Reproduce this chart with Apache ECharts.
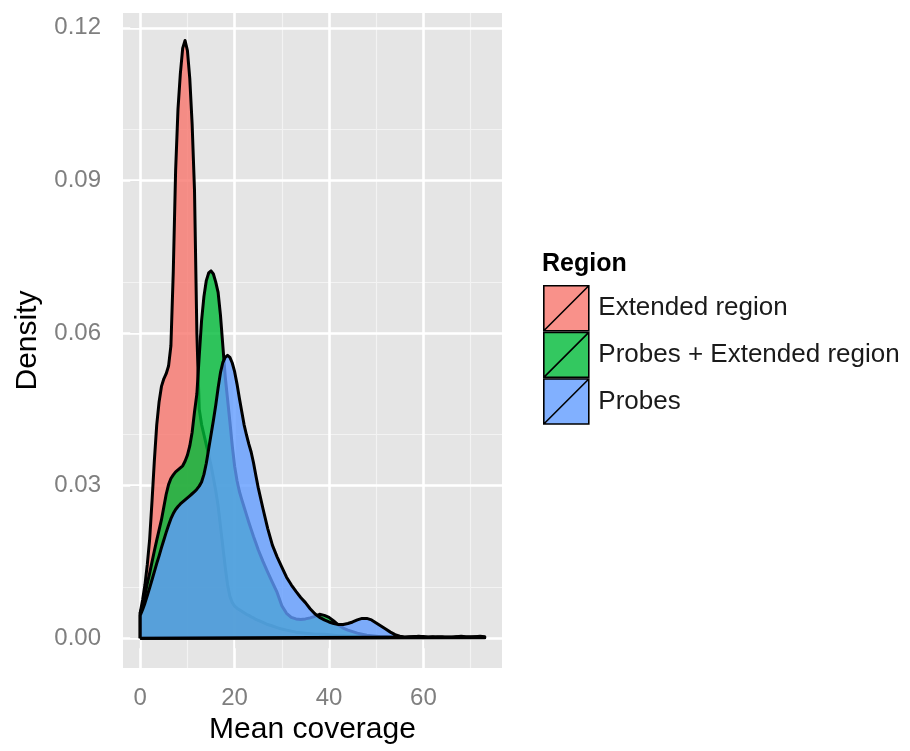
<!DOCTYPE html>
<html>
<head>
<meta charset="utf-8">
<script src="https://cdn.jsdelivr.net/npm/echarts@6/dist/echarts.min.js"></script>
<style>
  html, body { margin: 0; padding: 0; background: #ffffff; }
  #chart { width: 910px; height: 751px; }
</style>
</head>
<body>
<div id="chart"></div>
<script>
// Mean coverage grid at which the densities are evaluated
const coverage = [
  0, 0.5, 1, 1.5, 2, 2.5, 3, 3.5, 4, 4.5,
  5, 5.5, 6, 6.5, 7, 7.5, 8, 8.5, 9, 9.5,
  10, 10.5, 11, 11.5, 12, 12.5, 13, 13.5, 14, 14.5,
  15, 15.5, 16, 16.5, 17, 17.5, 18, 18.5, 19, 19.5,
  20, 20.5, 21, 21.5, 22, 22.5, 23, 23.5, 24, 24.5,
  25, 26, 27, 28, 29, 30, 31, 32, 33, 34,
  35, 36, 37, 38, 39, 40, 41, 42, 43, 44,
  45, 46, 47, 48, 49, 50, 51, 52, 53, 54,
  55, 56, 57, 58, 59, 60, 61, 62, 63, 64,
  65, 66, 67, 68, 69, 70, 71, 72, 73
];

// Density of mean coverage, Extended region
const extendedRegion = [
  0.0050, 0.0075, 0.0105, 0.0145, 0.0195, 0.0270, 0.0350, 0.0420, 0.0465, 0.0495,
  0.0510, 0.0520, 0.0535, 0.0575, 0.0720, 0.0920, 0.1040, 0.1110, 0.1160, 0.1175,
  0.1155, 0.1100, 0.1010, 0.0880, 0.0600, 0.0450, 0.0420, 0.0400, 0.0380, 0.0360,
  0.0340, 0.0315, 0.0290, 0.0260, 0.0220, 0.0180, 0.0140, 0.0105, 0.0082, 0.0070,
  0.0063, 0.0059, 0.0056, 0.0053, 0.0050, 0.0047, 0.0045, 0.0042, 0.0040, 0.0037,
  0.0035, 0.0031, 0.0027, 0.0024, 0.0021, 0.0018, 0.0016, 0.0014, 0.0012, 0.0011,
  0.0010, 0.0009, 0.0008, 0.0008, 0.0008, 0.0007, 0.0006, 0.0005, 0.0005, 0.0004,
  0.0004, 0.0004, 0.0003, 0.0003, 0.0003, 0.0002, 0.0002, 0.0002, 0.0002, 0.0002,
  0.0002, 0.0001, 0.0001, 0.0002, 0.0002, 0.0001, 0.0001, 0.0001, 0.0001, 0.0001,
  0.0001, 0.0001, 0.0001, 0.0001, 0.0001, 0.0001, 0.0001, 0.0001, 0.0001
];

// Density of mean coverage, Probes + Extended region
const probesExtended = [
  0.0050, 0.0065, 0.0085, 0.0108, 0.0128, 0.0150, 0.0172, 0.0193, 0.0213, 0.0233,
  0.0258, 0.0283, 0.0302, 0.0314, 0.0321, 0.0327, 0.0331, 0.0335, 0.0339, 0.0348,
  0.0360, 0.0378, 0.0405, 0.0445, 0.0480, 0.0555, 0.0625, 0.0672, 0.0703, 0.0718,
  0.0722, 0.0716, 0.0700, 0.0680, 0.0635, 0.0575, 0.0515, 0.0470, 0.0425, 0.0378,
  0.0338, 0.0310, 0.0289, 0.0273, 0.0258, 0.0243, 0.0228, 0.0214, 0.0200, 0.0187,
  0.0174, 0.0151, 0.0130, 0.0110, 0.0090, 0.0064, 0.0049, 0.0041, 0.0038, 0.0037,
  0.0038, 0.0040, 0.0043, 0.0047, 0.0045, 0.0041, 0.0034, 0.0026, 0.0020, 0.0016,
  0.0013, 0.0010, 0.0008, 0.0006, 0.0005, 0.0004, 0.0003, 0.0003, 0.0002, 0.0002,
  0.0002, 0.0002, 0.0003, 0.0003, 0.0002, 0.0002, 0.0002, 0.0003, 0.0002, 0.0002,
  0.0002, 0.0002, 0.0003, 0.0002, 0.0002, 0.0002, 0.0003, 0.0002, 0.0002
];

// Density of mean coverage, Probes
const probes = [
  0.0045, 0.0056, 0.0069, 0.0084, 0.0099, 0.0115, 0.0131, 0.0147, 0.0162, 0.0178,
  0.0193, 0.0208, 0.0222, 0.0235, 0.0245, 0.0253, 0.0259, 0.0264, 0.0268, 0.0272,
  0.0276, 0.0280, 0.0284, 0.0288, 0.0293, 0.0299, 0.0307, 0.0322, 0.0344, 0.0372,
  0.0400, 0.0428, 0.0458, 0.0492, 0.0522, 0.0542, 0.0552, 0.0556, 0.0552, 0.0541,
  0.0524, 0.0500, 0.0472, 0.0446, 0.0420, 0.0400, 0.0382, 0.0366, 0.0345, 0.0320,
  0.0296, 0.0255, 0.0216, 0.0183, 0.0160, 0.0140, 0.0120, 0.0105, 0.0092, 0.0080,
  0.0070, 0.0058, 0.0048, 0.0041, 0.0036, 0.0032, 0.0029, 0.0027, 0.0027, 0.0029,
  0.0032, 0.0036, 0.0039, 0.0039, 0.0036, 0.0030, 0.0024, 0.0018, 0.0012, 0.0007,
  0.0004, 0.0002, 0.0002, 0.0003, 0.0004, 0.0003, 0.0002, 0.0002, 0.0003, 0.0003,
  0.0002, 0.0002, 0.0003, 0.0004, 0.0003, 0.0003, 0.0003, 0.0004, 0.0003
];

const regionNames = ['Extended region', 'Probes + Extended region', 'Probes'];
const regionValues = [extendedRegion, probesExtended, probes];
const regionColors = ['rgba(248,118,109,0.8)', 'rgba(0,186,56,0.8)', 'rgba(97,156,255,0.8)'];

const xTicks = [0, 20, 40, 60];
const xMinorTicks = [10, 30, 50, 70];
const yTicks = [0, 0.03, 0.06, 0.09, 0.12];
const yMinorTicks = [0.015, 0.045, 0.075, 0.105];

const FONT = '"Liberation Sans", Arial, Helvetica, sans-serif';

// Closed outline of a density polygon: baseline -> curve -> baseline
function densityOutline(xs, ys) {
  const first = xs[0];
  const last = xs[xs.length - 1];
  const pts = [[first, 0]];
  xs.forEach((x, i) => pts.push([x, ys[i]]));
  pts.push([last, 0]);
  pts.push([first, 0]);
  return pts;
}

const majorLine = { color: '#ffffff', width: 2.6, type: 'solid' };
const minorLine = { color: '#f3f3f3', width: 1.2, type: 'solid' };

const gridLineSeries = {
  type: 'line',
  data: [],
  silent: true,
  z: 1,
  markLine: {
    silent: true,
    symbol: ['none', 'none'],
    animation: false,
    z: 1,
    label: { show: false },
    data: [
      ...xMinorTicks.map(v => ({ xAxis: v, lineStyle: minorLine })),
      ...yMinorTicks.map(v => ({ yAxis: v, lineStyle: minorLine })),
      ...xTicks.map(v => ({ xAxis: v, lineStyle: majorLine })),
      ...yTicks.map(v => ({ yAxis: v, lineStyle: majorLine }))
    ]
  }
};

// Each group gets its own z so a later fill also covers the earlier outlines
const densitySeries = regionNames.map((name, i) => ({
  type: 'line',
  name: name,
  data: densityOutline(coverage, regionValues[i]),
  smooth: false,
  symbol: 'none',
  showSymbol: false,
  silent: true,
  z: 3 + i,
  lineStyle: { color: '#000000', width: 3, join: 'round' },
  itemStyle: { color: regionColors[i] },
  areaStyle: { color: regionColors[i], opacity: 1 }
}));

const chart = echarts.init(document.getElementById('chart'), null, { renderer: 'canvas' });

chart.setOption({
  animation: false,
  backgroundColor: '#ffffff',
  textStyle: { fontFamily: FONT },
  title: {
    text: 'Region',
    left: 542,
    top: 252,
    padding: 0,
    textStyle: { fontFamily: FONT, fontSize: 25, fontWeight: 'bold', color: '#000000' }
  },
  legend: {
    orient: 'vertical',
    left: 543,
    top: 285,
    padding: 0,
    itemGap: 0,
    itemWidth: 46,
    itemHeight: 45,
    icon: 'path://M0,0L10,0L10,10L0,10Z M0,10L10,0',
    itemStyle: { borderColor: '#000000', borderWidth: 1.6 },
    textStyle: { fontFamily: FONT, fontSize: 26, color: '#1a1a1a', padding: [0, 0, 0, 4] },
    selectedMode: false,
    data: regionNames
  },
  grid: {
    left: 123,
    right: 408,
    top: 13,
    bottom: 83,
    show: true,
    backgroundColor: '#e5e5e5',
    borderWidth: 0,
    containLabel: false
  },
  xAxis: {
    type: 'value',
    min: -3.65,
    max: 76.65,
    name: 'Mean coverage',
    nameLocation: 'middle',
    nameGap: 45,
    nameTextStyle: { fontFamily: FONT, fontSize: 30, color: '#000000' },
    axisLine: { show: false },
    splitLine: { show: false },
    axisTick: { show: true, customValues: xTicks, length: 10, lineStyle: { color: '#7f7f7f', width: 1.6 } },
    axisLabel: { customValues: xTicks, color: '#7f7f7f', fontSize: 24, margin: 18, fontFamily: FONT }
  },
  yAxis: {
    type: 'value',
    min: -0.00585,
    max: 0.1229,
    name: 'Density',
    nameLocation: 'middle',
    nameGap: 80,
    nameTextStyle: { fontFamily: FONT, fontSize: 30, color: '#000000' },
    axisLine: { show: false },
    splitLine: { show: false },
    axisTick: { show: true, customValues: yTicks, length: 10, lineStyle: { color: '#7f7f7f', width: 1.6 } },
    axisLabel: {
      customValues: yTicks,
      color: '#7f7f7f',
      fontSize: 24,
      margin: 22,
      fontFamily: FONT,
      formatter: v => v.toFixed(2)
    }
  },
  series: [gridLineSeries, ...densitySeries]
});
</script>
</body>
</html>
